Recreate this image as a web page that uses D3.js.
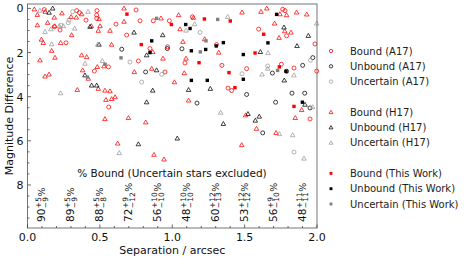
<!DOCTYPE html>
<html><head><meta charset="utf-8">
<script src="https://cdn.jsdelivr.net/npm/d3@7"></script>
<style>body{margin:0;background:#fff}svg{display:block;font-family:"DejaVu Sans",sans-serif}</style>
</head><body><svg id="c" width="470" height="260"></svg>
<script>
// ---- data (separation arcsec, magnitude difference) ----
const boundA17 = [[0.116,0.05],[0.340,0.10],[0.358,0.19],[0.480,0.10],[0.478,0.30],[0.750,0.07],[0.404,0.53],[0.478,0.45],[0.777,0.56],[0.869,0.56],[0.185,0.83],[0.225,0.98],[0.611,0.71],[0.685,1.21],[0.266,1.56],[0.846,1.82],[0.766,2.38],[0.559,2.65],[0.462,2.84],[0.561,4.47],[0.980,0.56],[1.139,0.38],[1.597,0.94],[1.763,0.04],[1.779,0.10],[1.790,1.24],[1.986,1.61],[0.968,1.74],[1.306,1.64],[1.088,2.47],[1.343,2.58],[0.950,2.88],[1.514,2.73],[1.754,2.53],[1.841,2.70],[1.998,2.84],[1.385,3.61],[1.410,3.72],[1.952,5.01]];
const unboundA17 = [[0.651,1.85],[0.816,2.88],[0.966,1.82],[1.067,1.83],[1.692,2.93],[1.790,2.85],[1.901,2.58],[1.971,2.23],[1.514,3.90],[1.827,3.84],[1.915,3.84],[1.714,4.25],[1.171,4.29],[1.952,4.51],[1.625,5.64]];
const uncertainA17 = [[0.312,0.15],[0.287,0.53],[0.282,0.65],[0.232,0.76],[0.708,2.43],[0.789,3.34],[1.192,1.09],[0.927,2.99],[1.482,2.96],[1.659,2.61],[1.955,2.35],[1.841,6.51]];
const boundH17 = [[0.047,0.04],[0.068,0.29],[0.123,0.15],[0.238,0.22],[0.374,0.26],[0.667,0.0],[0.185,0.41],[0.301,0.38],[0.337,0.41],[0.494,0.48],[0.667,0.60],[0.068,0.76],[0.139,0.65],[0.188,0.80],[0.441,0.80],[0.501,0.80],[0.489,1.01],[0.570,1.01],[0.305,1.21],[0.096,1.41],[0.109,1.56],[0.229,1.56],[0.581,1.64],[0.167,1.92],[0.865,1.97],[0.374,2.12],[0.409,2.20],[0.190,2.23],[0.086,2.35],[0.528,2.62],[0.482,2.65],[0.381,2.80],[0.738,2.88],[0.858,2.73],[0.121,3.08],[0.149,2.99],[0.420,3.18],[0.489,3.64],[0.344,3.69],[0.535,3.72],[0.570,3.75],[0.542,4.14],[0.581,4.10],[0.605,4.02],[0.535,5.01],[0.697,4.96],[0.817,5.16],
 [0.922,0.45],[1.044,0.30],[1.146,0.42],[1.482,0.18],[1.613,0.15],[1.653,0.0],[1.744,0.26],[1.790,0.30],[1.859,0.18],[1.929,0.27],[1.707,0.68],[1.054,0.94],[1.777,1.03],[1.820,1.09],[1.738,1.33],[1.074,1.51],[1.224,1.39],[1.321,2.0],[0.936,2.27],[1.095,2.27],[1.083,2.93],[1.015,3.34],[1.113,4.17],[1.894,4.60],[1.850,4.96],[1.507,4.84],[1.582,5.45],[0.623,6.12],[0.874,6.63],[1.717,5.64],[1.480,6.19],[0.943,6.84]];
const unboundH17 = [[0.174,0.0],[0.149,0.19],[0.432,0.83],[0.736,1.09],[0.494,1.64],[0.823,2.12],[0.892,2.80],[0.443,3.49],[0.478,3.49],[0.865,3.72],[0.823,4.25],[0.397,3.03],[0.934,1.21],[1.772,0.86],[1.862,1.70],[1.940,1.24],[1.609,1.97],[1.774,3.26],[1.113,3.69],[1.263,3.64],[1.917,4.36],[1.523,4.78],[1.601,4.90],[1.574,5.08],[1.353,5.23],[0.766,6.15],[1.035,5.89]];
const uncertainH17 = [[0.086,0.10],[0.418,0.15],[0.220,0.80],[0.248,0.80],[0.326,0.91],[0.121,1.06],[0.162,0.94],[0.167,1.62],[0.485,1.64],[0.397,2.50],[0.517,2.38],[0.229,3.84],[1.383,0.38],[1.998,0.68],[1.155,0.71],[1.095,1.0],[1.661,2.02],[1.659,2.73],[1.841,3.03],[1.620,2.99],[1.970,4.47],[1.335,4.72],[0.634,6.55],[1.740,5.69],[1.832,5.74],[1.910,6.80]];
const boundTW = [[0.687,0.26],[0.786,1.64],[0.994,0.73],[1.222,0.48],[1.401,0.57],[1.632,1.17],[1.572,2.02],[1.185,2.46],[1.392,2.91],[1.740,2.65],[1.433,3.59],[1.841,4.44]];
const unboundTW = [[0.858,1.47],[0.846,2.00],[1.721,0.27],[1.093,0.73],[1.123,0.91],[1.132,1.92],[1.231,1.86],[1.304,1.70],[1.353,1.55],[1.491,2.09],[1.661,1.56],[1.786,2.85],[1.132,3.26],[1.242,3.26],[1.491,3.21],[1.899,4.25]];
const uncertainTW = [[0.892,0.45],[0.646,2.24],[0.536,2.53],[0.414,3.11],[1.314,0.50],[1.233,1.47],[1.194,1.97],[1.728,2.81]];

const binCentres = [0.1,0.3,0.5,0.7,0.9,1.1,1.3,1.5,1.7,1.9];
const pctMain = [90,89,88,72,56,48,60,53,56,48];
const pctPlus = [5,5,5,9,10,10,12,12,9,11];
const pctMinus = [9,9,8,12,10,10,13,12,10,11];

const xTicks = [0,0.5,1.0,1.5,2.0];
const yTicks = [0,2,4,6,8];

const legendGroups = [
  [["Bound (A17)","circle","red"],["Unbound (A17)","circle","black"],["Uncertain (A17)","circle","gray"]],
  [["Bound (H17)","triangle","red"],["Unbound (H17)","triangle","black"],["Uncertain (H17)","triangle","gray"]],
  [["Bound (This Work)","square","red"],["Unbound (This Work)","square","black"],["Uncertain (This Work)","square","gray"]]
];

// ---- drawing ----
const col = {red:"#ff0000", black:"#000000", gray:"#999999"};
const svg = d3.select("#c");
const L=27.5, R=317, T=4, B=228;
const x = d3.scaleLinear([0,2],[L,R]);
const y = d3.scaleLinear([-0.2,9.95],[T,B]);

const plot = svg.append("g");
function drawMarker(g, shape, c, px, py, k=1){
  if(shape==="circle"){
    g.append("circle").attr("cx",px).attr("cy",py).attr("r",2.0*k)
     .attr("fill","none").attr("stroke",col[c]).attr("stroke-width",0.75);
  } else if(shape==="triangle"){
    const s=d3.symbol(d3.symbolTriangle,9*k*k)();
    g.append("path").attr("d",s).attr("transform",`translate(${px},${py+0.3})`)
     .attr("fill","none").attr("stroke",col[c]).attr("stroke-width",0.75);
  } else {
    const c2 = c==="gray" ? "#808080" : col[c];
    const h = 1.7*k;
    g.append("rect").attr("x",px-h).attr("y",py-h).attr("width",2*h).attr("height",2*h).attr("fill",c2);
  }
}
const series = [
  [boundA17,"circle","red"],[unboundA17,"circle","black"],[uncertainA17,"circle","gray"],
  [boundH17,"triangle","red"],[unboundH17,"triangle","black"],[uncertainH17,"triangle","gray"],
  [boundTW,"square","red"],[unboundTW,"square","black"],[uncertainTW,"square","gray"]
];
series.forEach(([data,shape,c])=>{
  data.forEach(d=>drawMarker(plot,shape,c,x(d[0]),y(d[1])));
});

// frame
svg.append("rect").attr("x",L).attr("y",T).attr("width",R-L).attr("height",B-T)
  .attr("fill","none").attr("stroke","#666").attr("stroke-width",0.9);

// ticks (inward)
const tg = svg.append("g").attr("stroke","#444").attr("stroke-width",0.8);
d3.range(0,2.001,0.1).forEach(v=>{
  const major = xTicks.some(t=>Math.abs(t-v)<1e-6);
  tg.append("line").attr("x1",x(v)).attr("x2",x(v)).attr("y1",B).attr("y2",B-(major?3.5:2));
});
d3.range(0,9.9,0.5).forEach(v=>{
  const major = yTicks.some(t=>Math.abs(t-v)<1e-6);
  tg.append("line").attr("y1",y(v)).attr("y2",y(v)).attr("x1",L).attr("x2",L+(major?3.5:2));
});
xTicks.forEach(v=>svg.append("text").attr("x",x(v)).attr("y",B+12.5).attr("text-anchor","middle")
  .attr("font-size",11).attr("fill","#111").text(v.toFixed(1)));
yTicks.forEach(v=>svg.append("text").attr("x",L-4).attr("y",y(v)+4).attr("text-anchor","end")
  .attr("font-size",11).attr("fill","#111").text(v));

svg.append("text").attr("x",(L+R)/2).attr("y",254).attr("text-anchor","middle")
  .attr("font-size",11).attr("fill","#111").text("Separation / arcsec");
svg.append("text").attr("transform",`translate(13,${(T+B)/2}) rotate(-90)`).attr("text-anchor","middle")
  .attr("font-size",11).attr("fill","#111").text("Magnitude Difference");

svg.append("text").attr("x",172).attr("y",177).attr("text-anchor","middle")
  .attr("font-size",10.5).attr("fill","#111").text("% Bound (Uncertain stars excluded)");

// percentage labels
binCentres.forEach((c,i)=>{
  const g = svg.append("g").attr("transform",`translate(${x(c)+3.4},222) rotate(-90)`)
    .attr("fill","#111");
  const m = g.append("text").attr("x",0).attr("y",0).attr("font-size",10.5).text(pctMain[i]);
  const w = m.node().getComputedTextLength()+0.5;
  const sp = g.append("text").attr("x",w).attr("y",-4.4).attr("font-size",7.5).text("+"+pctPlus[i]);
  const sb = g.append("text").attr("x",w).attr("y",2.4).attr("font-size",7.5).text("\u2212"+pctMinus[i]);
  const w2 = Math.max(sp.node().getComputedTextLength(), sb.node().getComputedTextLength());
  g.append("text").attr("x",w+w2+0.5).attr("y",0).attr("font-size",9.5).text("%");
});

// legend
let ly = 51;
legendGroups.forEach((grp,gi)=>{
  grp.forEach(([label,shape,c])=>{
    drawMarker(svg,shape,c,331,ly,0.85);
    svg.append("text").attr("x",350).attr("y",ly+3.6).attr("font-size",10).attr("fill","#222").text(label);
    ly += 15.3;
  });
  ly += 15.3;
});
</script></body></html>
